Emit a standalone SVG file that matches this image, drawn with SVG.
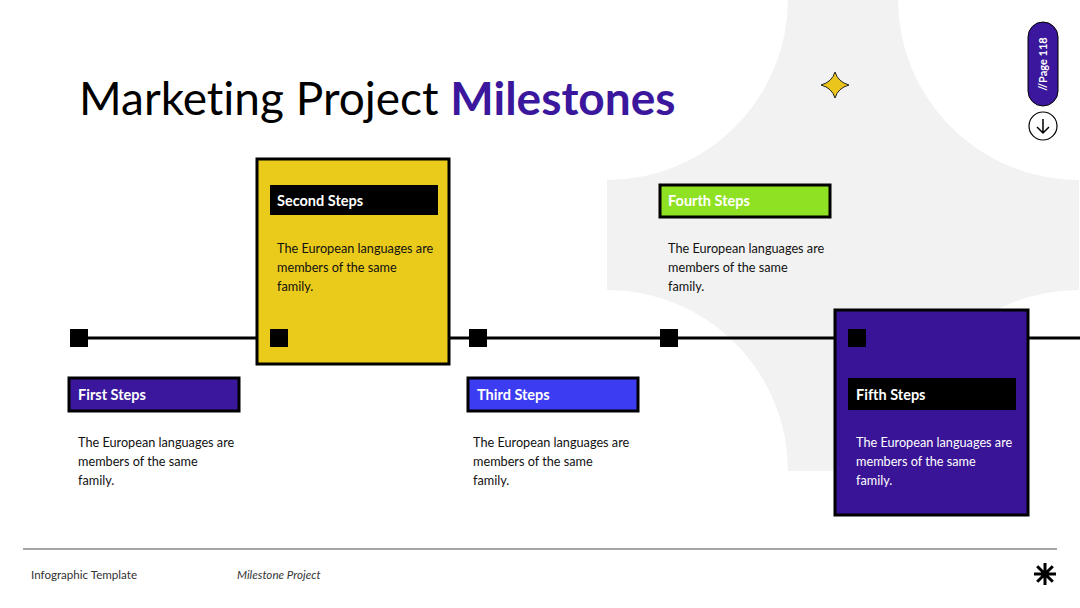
<svg xmlns="http://www.w3.org/2000/svg" width="1080" height="608" viewBox="0 0 1080 608">
<style>
text{font-variant-ligatures:none}
.body{font-family:Lato,"Open Sans","Liberation Sans",sans-serif;font-size:12.7px;fill:#111}
.head{font-family:Lato,"Open Sans","Liberation Sans",sans-serif;font-size:14.5px;font-weight:bold;fill:#fff}
.foot{font-family:Lato,"Open Sans","Liberation Sans",sans-serif;font-size:11.6px;fill:#333}
.dot{fill:#000}
.bar{stroke:#000;stroke-width:3}
</style>
<rect width="1080" height="608" fill="#fff"/>
<path d="M788 -1 L898 -1 A181 181 0 0 0 1079 180 L1079 290 A181 181 0 0 0 898 471 L788 471 A181 181 0 0 0 607 290 L607 180 A181 181 0 0 0 788 -1 Z" fill="#f2f2f2"/>
<text x="79" y="115" font-family="Lato,'Open Sans','Liberation Sans',sans-serif" font-size="46" fill="#000">Marketing Project <tspan font-weight="bold" fill="#3a179c">Milestones</tspan></text>
<path d="M835 72 Q838 82 849 85 Q838 88 835 98 Q832 88 821 85 Q832 82 835 72 Z" fill="#eac61c" stroke="#222" stroke-width="1"/>
<g id="page">
<rect x="1028" y="22" width="30" height="84" rx="15" fill="#3a179c" stroke="#000" stroke-width="1"/>
<text transform="translate(1047 64) rotate(-90)" text-anchor="middle" font-family="Lato,'Open Sans','Liberation Sans',sans-serif" font-size="11" font-weight="bold" fill="#fff">//Page 118</text>
<circle cx="1043" cy="126" r="14" fill="#fff" stroke="#000" stroke-width="1.2"/>
<path d="M1043 119 V133 M1037 127 L1043 133 L1049 127" fill="none" stroke="#000" stroke-width="1.5"/>
</g>
<g id="connectors">
<line x1="79" y1="338" x2="1080" y2="338" stroke="#000" stroke-width="3"/>
</g>
<g id="second">
<rect x="257" y="159" width="192" height="205" fill="#eacb1b" stroke="#000" stroke-width="3"/>
<rect x="270" y="185" width="168" height="30" fill="#000"/>
<text class="head" x="277" y="206">Second Steps</text>
<text class="body" x="277" y="253">The European languages are</text>
<text class="body" x="277" y="272">members of the same</text>
<text class="body" x="277" y="291">family.</text>
<rect class="dot" x="270" y="329" width="18" height="18"/>
</g>
<g id="fifth">
<rect x="835" y="310" width="193" height="205" fill="#3a1497" stroke="#000" stroke-width="3"/>
<rect class="dot" x="848" y="329" width="18" height="18"/>
<rect x="848" y="378" width="168" height="32" fill="#000"/>
<text class="head" x="856" y="400">Fifth Steps</text>
<text class="body" x="856" y="447" style="fill:#fff">The European languages are</text>
<text class="body" x="856" y="466" style="fill:#fff">members of the same</text>
<text class="body" x="856" y="485" style="fill:#fff">family.</text>
</g>
<g id="first">
<rect class="dot" x="70" y="329" width="18" height="18"/>
<rect class="bar" x="69" y="378" width="170" height="33" fill="#3a179c"/>
<text class="head" x="78" y="400">First Steps</text>
<text class="body" x="78" y="447">The European languages are</text>
<text class="body" x="78" y="466">members of the same</text>
<text class="body" x="78" y="485">family.</text>
</g>
<g id="third">
<rect class="dot" x="469" y="329" width="18" height="18"/>
<rect class="bar" x="468" y="378" width="170" height="33" fill="#3c3cf2"/>
<text class="head" x="477" y="400">Third Steps</text>
<text class="body" x="473" y="447">The European languages are</text>
<text class="body" x="473" y="466">members of the same</text>
<text class="body" x="473" y="485">family.</text>
</g>
<g id="fourth">
<rect class="dot" x="660" y="329" width="18" height="18"/>
<rect class="bar" x="660" y="185" width="170" height="32" fill="#8fe223"/>
<text class="head" x="668" y="206">Fourth Steps</text>
<text class="body" x="668" y="253">The European languages are</text>
<text class="body" x="668" y="272">members of the same</text>
<text class="body" x="668" y="291">family.</text>
</g>
<g id="footer">
<line x1="23" y1="549" x2="1057" y2="549" stroke="#a6a6a6" stroke-width="2"/>
<text class="foot" x="31" y="579">Infographic Template</text>
<text class="foot" x="237" y="579" font-style="italic">Milestone Project</text>
<path d="M1045 563 V585 M1034 574 H1056 M1037.2 566.2 L1052.8 581.8 M1052.8 566.2 L1037.2 581.8" stroke="#000" stroke-width="3"/>
</g>
</svg>
